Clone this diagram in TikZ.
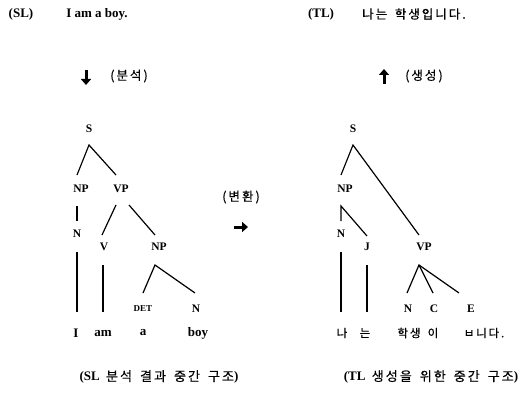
\documentclass[tikz,border=0pt]{standalone}
\usepackage{fontspec}
\setmainfont{Liberation Serif}
\newfontfamily\kr[LetterSpace=16,WordSpace=1.6,FakeBold=0.5]{Noto Sans CJK KR}
\usetikzlibrary{arrows.meta}
\tikzset{
  lbl/.style={inner sep=0pt, font=\fontsize{11.5}{13}\selectfont\bfseries},
  small/.style={inner sep=0pt, font=\fontsize{9}{10}\selectfont\bfseries},
  word/.style={inner sep=0pt, font=\fontsize{13}{15}\selectfont\bfseries},
  krw/.style={inner sep=0pt, font=\fontsize{11.5}{13}\selectfont\kr},
  krb/.style={inner sep=0pt, font=\fontsize{12.5}{14}\selectfont\kr},
  edge/.style={line width=1.2pt},
  bigarrow/.style={line width=3pt, -{Triangle[width=10pt,length=6pt]}}
}
\begin{document}
\begin{tikzpicture}[x=1pt,y=-1pt]
\useasboundingbox (0,0) rectangle (528,412);
% top lines
\node[word] (sl) at (21,14) {(SL)};
\node[word] (sls) at (97,14) {I am a boy.};
\node[word] (tl) at (321,14) {(TL)};
\node[krb] (tls) at (414,14) {나는 학생입니다.};
% arrows
\coordinate (da1) at (86,70); \coordinate (da2) at (86,85);
\draw[bigarrow] (da1) -- (da2);
\node[krb] (ana) at (129,76) {(분석)};
\coordinate (ua1) at (384,84); \coordinate (ua2) at (384,69);
\draw[bigarrow] (ua1) -- (ua2);
\node[krb] (gen) at (424,76) {(생성)};
\node[krb] (trans) at (241,197) {(변환)};
\coordinate (ra1) at (234,227); \coordinate (ra2) at (248,227);
\draw[bigarrow] (ra1) -- (ra2);

% ---------- left tree ----------
\node[lbl] (lS) at (89,129) {S};
\node[lbl] (lNP) at (81,189) {NP};
\node[lbl] (lVP) at (121,189) {VP};
\node[lbl] (lN) at (77,234) {N};
\node[lbl] (lV) at (104,247) {V};
\node[lbl] (lNP2) at (159,247) {NP};
\node[small] (lDET) at (143,309) {DET};
\node[lbl] (lN2) at (196,309) {N};
\node[word] (wI) at (76,333) {I};
\node[word] (wam) at (103,333) {am};
\node[word] (wa) at (143,333) {a};
\node[word] (wboy) at (198,333) {boy};

\coordinate (lSa) at (89,145);
\coordinate (lNPt) at (77,175);
\coordinate (lVPt) at (116,175);
\draw[edge] (lNPt) -- (lSa) -- (lVPt);
\coordinate (lNPb) at (77,206); \coordinate (lNt) at (77,221);
\draw[edge] (lNPb) -- (lNt);
\coordinate (lVPa) at (116,205); \coordinate (lVt) at (102,235);
\draw[edge] (lVPa) -- (lVt);
\coordinate (lVPb) at (129,205); \coordinate (lNP2t) at (155,235);
\draw[edge] (lVPb) -- (lNP2t);
\coordinate (lNP2a) at (155,265);
\coordinate (lDETt) at (143,293); \coordinate (lN2t) at (195,293);
\draw[edge] (lDETt) -- (lNP2a) -- (lN2t);
\coordinate (lNb) at (77,252); \coordinate (wIt) at (77,312);
\draw[edge] (lNb) -- (wIt);
\coordinate (lVb) at (103,265); \coordinate (wamt) at (103,312);
\draw[edge] (lVb) -- (wamt);

% ---------- right tree ----------
\node[lbl] (rS) at (353,129) {S};
\node[lbl] (rNP) at (345,189) {NP};
\node[lbl] (rN) at (341,234) {N};
\node[lbl] (rJ) at (367,247) {J};
\node[lbl] (rVP) at (424,247) {VP};
\node[lbl] (rN2) at (408,309) {N};
\node[lbl] (rC) at (434,309) {C};
\node[lbl] (rE) at (471,309) {E};
\node[krw] (k1) at (342,333) {나};
\node[krw] (k2) at (365,333) {는};
\node[krw] (k3) at (409,333) {학생};
\node[krw] (k4) at (433,333) {이};
\node[krw] (k5) at (484,333) {ㅂ니다.};

\coordinate (rSa) at (353,145);
\coordinate (rNPt) at (341,175);
\coordinate (rVPt) at (419,235);
\draw[edge] (rNPt) -- (rSa) -- (rVPt);
\coordinate (rNPa) at (341,206);
\coordinate (rNt) at (341,221); \coordinate (rJt) at (367,236);
\draw[edge] (rNt) -- (rNPa) -- (rJt);
\coordinate (rVPa) at (419,265);
\coordinate (rN2t) at (407,293); \coordinate (rCt) at (433,293); \coordinate (rEt) at (459,293);
\draw[edge] (rN2t) -- (rVPa) -- (rEt);
\draw[edge] (rVPa) -- (rCt);
\coordinate (rNb) at (341,252); \coordinate (k1t) at (341,312);
\draw[edge] (rNb) -- (k1t);
\coordinate (rJb) at (367,265); \coordinate (k2t) at (367,312);
\draw[edge] (rJb) -- (k2t);

% bottom captions
\node[inner sep=0pt, font=\fontsize{13}{15}\selectfont\bfseries] (capL) at (159,377) {(SL\hspace{3pt} {\kr\mdseries 분석 결과 중간 구조})};
\node[inner sep=0pt, font=\fontsize{13}{15}\selectfont\bfseries] (capR) at (431,377) {(TL\hspace{3pt} {\kr\mdseries 생성을 위한 중간 구조})};
\end{tikzpicture}
\end{document}
